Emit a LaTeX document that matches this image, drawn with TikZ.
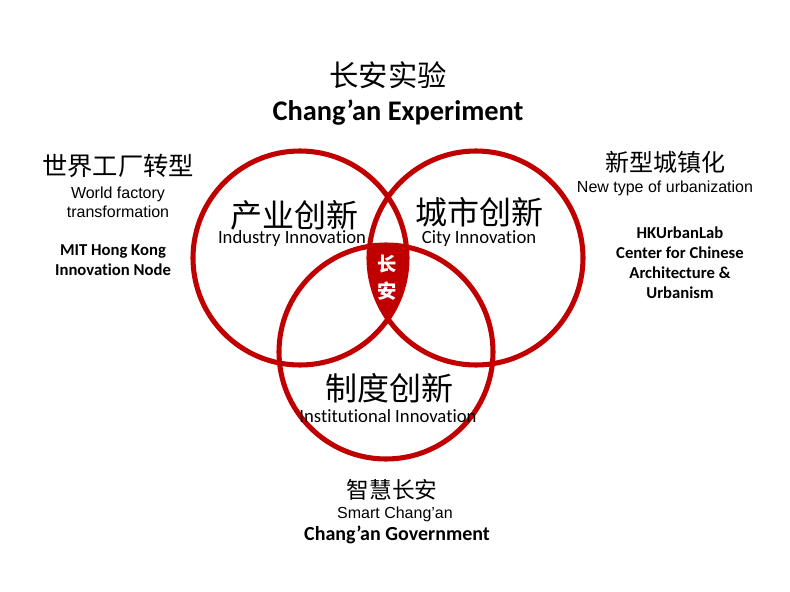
\documentclass[tikz,border=0pt]{standalone}
\usepackage{fontspec}
\setmainfont{Carlito}[Ligatures=NoCommon]
\newfontfamily\cjk{Noto Sans CJK SC}
\newfontfamily\arialfont{Liberation Sans}
\usetikzlibrary{positioning}
\definecolor{xared}{RGB}{192,0,0}

\begin{document}
\begin{tikzpicture}[
    x=0.75pt, y=-0.75pt,
    ring/.style={circle, draw=xared, line width=3.8pt, minimum size=160.5pt, inner sep=0pt},
    zhbig/.style={font=\cjk\fontsize{24}{28}\selectfont, inner sep=0pt},
    zhmid/.style={font=\cjk\fontsize{18}{22}\selectfont, inner sep=0pt},
    enlab/.style={font=\fontsize{14}{16}\selectfont, inner sep=0pt},
    ensub/.style={font=\arialfont\fontsize{12}{14}\selectfont, align=center, inner sep=0pt},
    enbold/.style={font=\bfseries\fontsize{12.5}{15}\selectfont, align=center, inner sep=0pt}
]
    \useasboundingbox (0,0) rectangle (790,592);

    % Circulos
    \node[ring] (ind) at (300,258) {};
    \node[ring] (city) at (476,258) {};
    \node[ring] (inst) at (386,352) {};

    % Centro
    \begin{scope}
        \clip (ind.center) circle[radius=80.25pt];
        \clip (city.center) circle[radius=80.25pt];
        \fill[xared] (inst.center) circle[radius=80.25pt];
    \end{scope}
    \node[font=\cjk\bfseries\fontsize{14.5}{20}\selectfont, text=white, align=center, inner sep=0pt] (core) at (387,278) {长\\安};

    % Titulo
    \node[font=\cjk\fontsize{22}{26}\selectfont, inner sep=0pt] (title) at (388,75) {长安实验};
    \node[font=\bfseries\fontsize{21.3}{25}\selectfont, inner sep=0pt] (titleen) at (398,113) {Chang’an Experiment};

    % Etiquetas de los circulos
    \node[zhbig] (indzh) at (294,215) {产业创新};
    \node[enlab] (inden) at (292,239) {Industry Innovation};
    \node[zhbig] (cityzh) at (479,212) {城市创新};
    \node[enlab] (cityen) at (479,239) {City Innovation};
    \node[zhbig] (instzh) at (389,388) {制度创新};
    \node[enlab] (insten) at (388,416) {Institutional Innovation};

    % Izquierda
    \node[font=\cjk\fontsize{19}{23}\selectfont, inner sep=0pt] (world) at (118,166) {世界工厂转型};
    \node[ensub] (worlden) at (118,202) {World factory\\transformation};
    \node[enbold] (mit) at (113,260) {MIT Hong Kong\\Innovation Node};

    % Derecha
    \node[zhmid] (urban) at (665,162) {新型城镇化};
    \node[ensub] (urbanen) at (665,188) {New type of urbanization};
    \node[enbold] (hku) at (680,263) {HKUrbanLab\\Center for Chinese\\Architecture \&\\Urbanism};

    % Abajo
    \node[font=\cjk\fontsize{17}{20}\selectfont, inner sep=0pt] (smart) at (392,490) {智慧长安};
    \node[ensub] (smarten) at (395,514) {Smart Chang’an};
    \node[font=\bfseries\fontsize{15}{18}\selectfont, inner sep=0pt] (gov) at (397,535) {Chang’an Government};

\end{tikzpicture}
\end{document}
